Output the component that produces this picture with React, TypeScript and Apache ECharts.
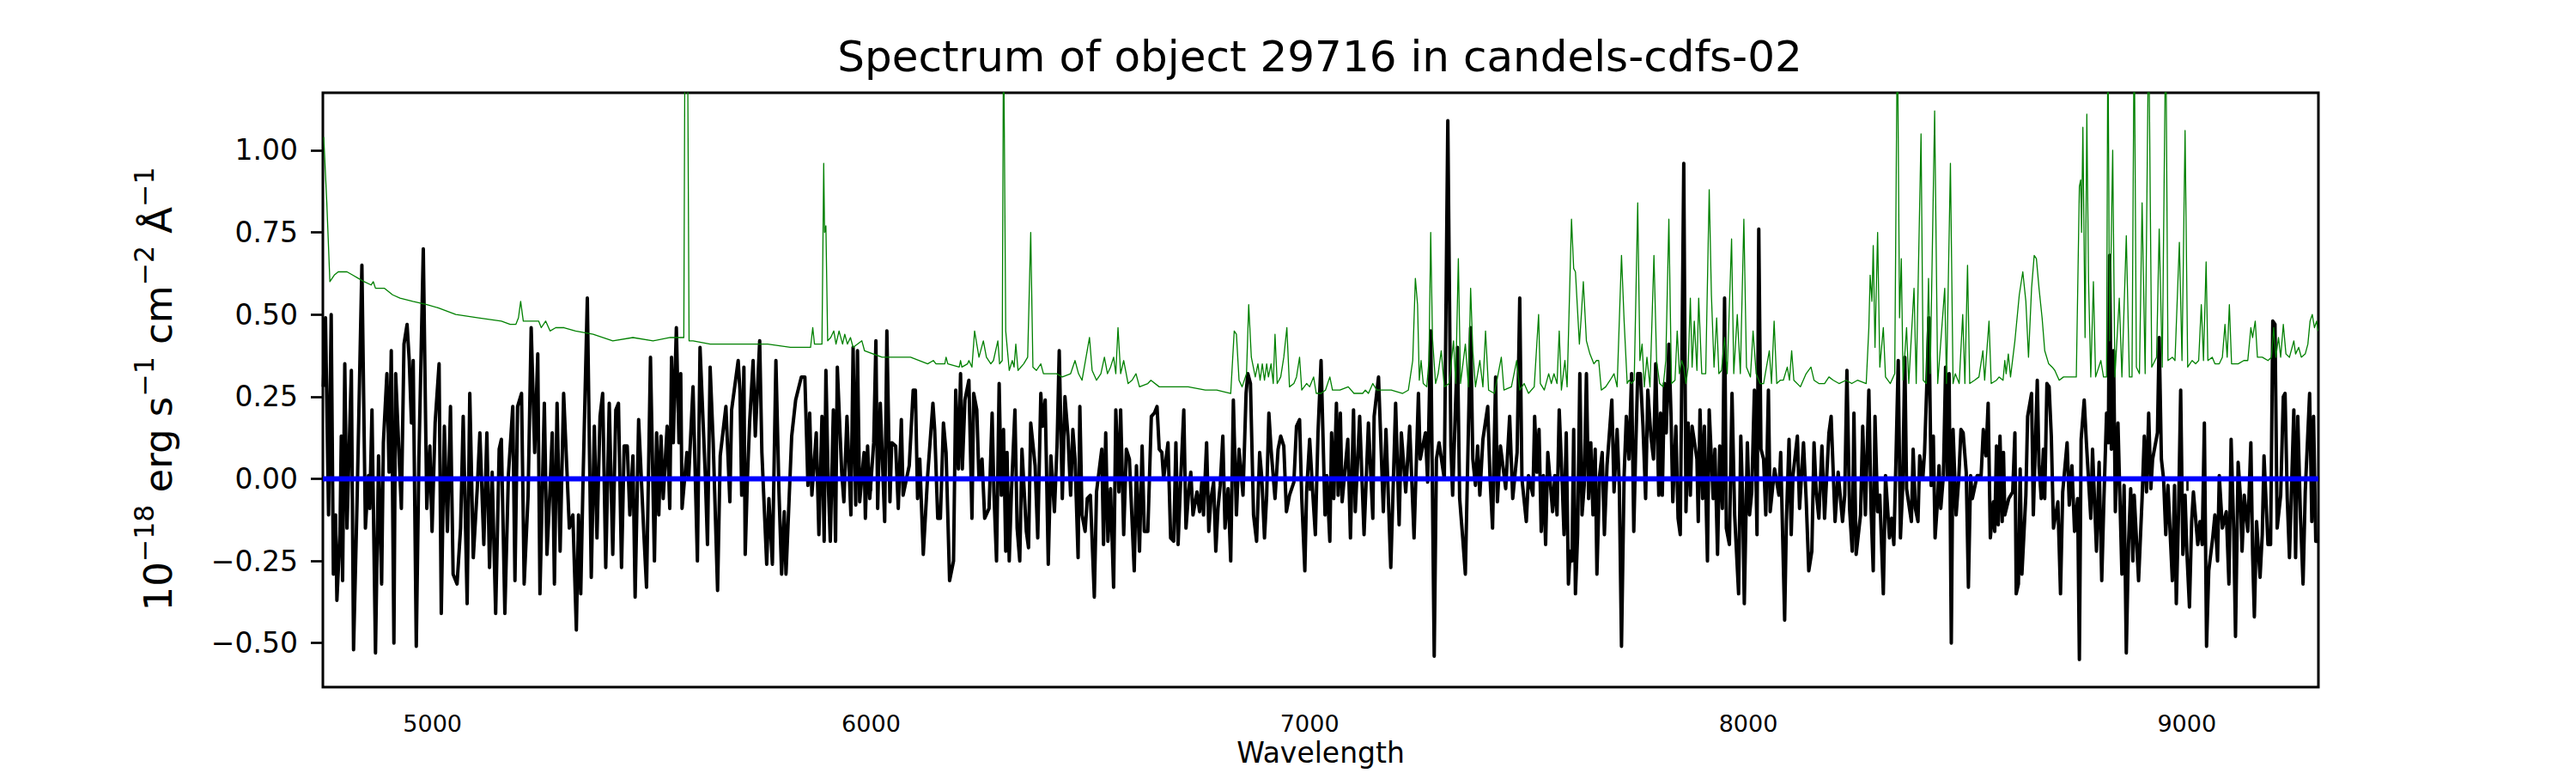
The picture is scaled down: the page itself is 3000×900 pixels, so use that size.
import { useEffect, useRef } from "react";
import * as echarts from "echarts";

const TITLE = "Spectrum of object 29716 in candels-cdfs-02";
const X_NAME = "Wavelength";
const X_MIN = 4750;
const X_MAX = 9300;
const Y_MIN = -0.634;
const Y_MAX = 1.175;
const xTicks = [5000, 6000, 7000, 8000, 9000];
const yTicks = [-0.5, -0.25, 0, 0.25, 0.5, 0.75, 1.0];

// observed spectrum (black), wavelength in Angstrom, flux in 1e-18 erg/s/cm2/A
const spec4750: [number, number][] = [
  [4751, 0.28], [4756, 0.49], [4763, -0.11], [4769, 0.5], [4774, -0.29], [4779, -0.11], [4782, -0.37], [4789, -0.17],
  [4792, 0.13], [4795, -0.31], [4800, 0.35], [4805, -0.15], [4815, 0.33], [4820, -0.52], [4828, -0.07], [4839, 0.65],
  [4847, -0.15], [4854, 0.01], [4857, -0.09], [4862, 0.21], [4870, -0.53], [4877, 0.07], [4884, -0.32], [4888, 0.11],
  [4896, 0.32], [4901, 0.02], [4906, 0.39], [4912, -0.5], [4916, 0.32], [4921, 0.16], [4929, -0.09], [4935, 0.41],
  [4942, 0.47], [4947, 0.36], [4952, 0.17], [4956, 0.36], [4963, -0.51], [4969, 0.06], [4979, 0.7], [4987, -0.09],
  [4994, 0.1], [4999, -0.16], [5006, 0.17], [5015, 0.35], [5020, -0.41], [5027, 0.16], [5034, -0.16], [5041, 0.22],
  [5047, -0.29], [5056, -0.32], [5064, -0.15], [5070, 0.19], [5079, -0.38], [5085, 0.26], [5093, -0.24], [5102, -0.03],
  [5108, 0.14], [5117, -0.2], [5124, 0.14], [5130, -0.27], [5136, 0.02], [5144, -0.41], [5152, 0.09], [5157, 0.12],
  [5165, -0.41], [5173, 0.01], [5183, 0.22], [5188, -0.31], [5194, 0.22], [5203, 0.26], [5209, -0.32], [5218, -0.05],
  [5225, 0.46], [5233, 0.08], [5240, 0.38], [5245, -0.35], [5255, 0.23], [5261, -0.23], [5268, -0.03], [5273, 0.14],
  [5278, -0.32], [5284, 0.23], [5291, -0.22], [5299, 0.26], [5307, 0.01], [5312, -0.15], [5320, -0.11], [5328, -0.46],
  [5333, -0.11], [5338, -0.35], [5343, -0.02], [5353, 0.55], [5362, -0.3], [5369, 0.16], [5375, -0.18], [5382, 0.19],
  [5388, 0.26], [5395, -0.27], [5403, 0.23], [5411, -0.23], [5418, 0.21], [5424, 0.23], [5431, -0.27], [5437, 0.1],
  [5444, 0.1], [5450, -0.11], [5457, 0.07], [5462, -0.36], [5470, 0.18], [5482, -0.17], [5488, -0.33], [5497, 0.37],
];
const spec5500: [number, number][] = [
  [5506, -0.25], [5511, 0.14], [5516, -0.11], [5521, 0.13], [5526, -0.06], [5535, 0.16], [5541, -0.09], [5545, 0.37],
  [5549, 0.11], [5556, 0.46], [5562, 0.11], [5566, 0.32], [5569, -0.09], [5580, 0.08], [5584, 0.0], [5594, 0.28],
  [5604, -0.25], [5610, 0.4], [5622, 0.01], [5627, -0.2], [5633, 0.34], [5640, 0.11], [5650, -0.34], [5656, 0.07],
  [5669, 0.22], [5678, -0.07], [5682, 0.21], [5697, 0.36], [5701, 0.27], [5705, -0.05], [5710, 0.34], [5713, -0.23],
  [5718, 0.0], [5723, 0.17], [5731, 0.36], [5736, 0.13], [5746, 0.42], [5751, 0.08], [5762, -0.26], [5767, -0.06],
  [5775, -0.26], [5783, 0.36], [5790, -0.04], [5796, -0.29], [5802, -0.1], [5806, -0.29], [5811, -0.13], [5819, 0.13],
  [5828, 0.24], [5841, 0.31], [5849, 0.31], [5856, -0.02], [5860, 0.2], [5865, -0.05], [5875, 0.14], [5881, -0.17],
  [5888, 0.19], [5893, -0.19], [5897, 0.33], [5902, 0.0], [5907, -0.19], [5914, 0.21], [5919, -0.19], [5923, 0.34],
  [5933, 0.02], [5938, -0.07], [5945, 0.19], [5954, -0.11], [5959, 0.4], [5965, -0.08], [5969, 0.39], [5974, -0.07],
  [5984, 0.08], [5987, -0.12], [5992, 0.1], [5997, -0.06], [6006, 0.11], [6011, 0.42], [6015, -0.09], [6021, 0.23],
  [6031, -0.13], [6036, 0.45], [6043, -0.07], [6047, 0.11], [6056, 0.1], [6062, -0.09], [6069, 0.18], [6073, -0.05],
  [6087, 0.04], [6096, 0.27], [6101, 0.27], [6106, -0.06], [6111, 0.06], [6119, -0.23], [6129, 0.01], [6141, 0.23],
  [6145, 0.15], [6152, -0.12], [6158, -0.12], [6165, 0.17], [6171, 0.08], [6179, -0.31], [6188, -0.25], [6193, 0.27],
  [6199, 0.03], [6204, 0.32], [6208, 0.03], [6214, 0.24], [6223, 0.3], [6230, -0.12], [6234, 0.26], [6241, 0.21],
  [6246, 0.0], [6253, 0.06], [6259, -0.12],
];
const spec6270: [number, number][] = [
  [6269, -0.09], [6276, 0.2], [6280, -0.04], [6286, -0.25], [6292, 0.29], [6297, -0.05], [6302, 0.15], [6307, -0.22],
  [6310, 0.08], [6315, -0.25], [6320, -0.04], [6328, 0.21], [6333, -0.15], [6339, -0.25], [6344, 0.09], [6354, -0.16],
  [6359, -0.21], [6364, 0.17], [6374, 0.04], [6380, -0.18], [6387, 0.26], [6391, 0.16], [6397, 0.24], [6404, -0.26],
  [6410, 0.07], [6418, -0.1], [6424, 0.1], [6429, 0.39], [6436, -0.06], [6442, 0.25], [6449, 0.13], [6455, -0.05],
  [6460, 0.15], [6465, 0.06], [6472, -0.24], [6476, 0.22], [6481, -0.11], [6488, -0.16], [6493, -0.06], [6500, -0.05],
  [6509, -0.36], [6514, -0.04], [6526, 0.09], [6530, -0.2], [6535, 0.14], [6540, -0.19], [6546, -0.03], [6553, -0.33],
  [6558, 0.21], [6565, -0.04], [6569, 0.21], [6576, -0.17], [6582, 0.09], [6589, 0.06], [6600, -0.28], [6605, 0.04],
  [6612, -0.22], [6618, 0.1], [6623, -0.16], [6631, -0.16], [6639, 0.19], [6646, 0.2], [6652, 0.22], [6657, 0.09],
  [6663, 0.08], [6667, 0.0], [6677, 0.11], [6683, -0.18], [6690, -0.19], [6695, 0.11], [6700, -0.2], [6706, 0.0],
  [6713, 0.21], [6718, -0.15], [6724, -0.04], [6729, 0.02], [6734, -0.11], [6743, -0.04], [6749, -0.1], [6754, -0.01],
  [6758, -0.11], [6765, 0.11], [6770, -0.16], [6775, -0.06], [6781, -0.01], [6786, -0.22], [6791, -0.09], [6796, -0.02],
  [6802, 0.13], [6807, -0.15], [6814, -0.03], [6820, -0.25], [6826, 0.24], [6833, -0.11], [6839, 0.09], [6848, -0.05],
  [6855, 0.26], [6859, 0.32], [6865, 0.29], [6872, -0.11], [6879, -0.19], [6886, 0.08], [6891, 0.0], [6897, -0.18],
  [6902, -0.05], [6907, 0.2], [6912, 0.09], [6921, -0.06], [6928, 0.09], [6934, 0.13], [6941, 0.1], [6947, -0.1],
  [6954, -0.05], [6964, -0.01], [6970, 0.16], [6977, 0.18], [6982, -0.06], [6989, -0.28], [6993, -0.04], [7000, 0.12],
  [7006, -0.02], [7013, -0.17], [7019, 0.14], [7026, 0.36],
];
const spec7030: [number, number][] = [
  [7035, -0.11], [7039, 0.01], [7046, -0.19], [7050, 0.14], [7055, -0.06], [7061, 0.23], [7065, -0.05], [7070, 0.2],
  [7074, -0.07], [7080, 0.02], [7087, 0.12], [7093, -0.18], [7100, 0.21], [7104, -0.1], [7114, 0.19], [7124, -0.17],
  [7134, 0.17], [7144, -0.12], [7147, 0.19], [7157, 0.31], [7168, -0.1], [7174, 0.15], [7185, -0.27], [7196, 0.23],
  [7204, -0.14], [7209, 0.14], [7219, -0.04], [7228, 0.16], [7238, -0.18], [7248, 0.26], [7252, 0.06], [7264, 0.14],
  [7269, -0.01], [7276, 0.45], [7284, -0.54], [7289, 0.06], [7295, 0.11], [7307, 0.0], [7315, 1.09], [7322, 0.1],
  [7326, -0.05], [7333, 0.24], [7337, 0.4], [7342, -0.06], [7349, -0.18], [7355, -0.29], [7361, 0.09], [7367, 0.46],
  [7372, 0.06], [7378, -0.02], [7383, 0.1], [7388, -0.05], [7395, 0.12], [7406, 0.22], [7411, 0.01], [7417, -0.15],
  [7424, 0.31], [7428, -0.07], [7435, 0.1], [7447, -0.03], [7456, 0.19], [7463, -0.06], [7473, 0.08], [7479, 0.55],
  [7484, 0.0], [7494, -0.13], [7499, 0.01], [7509, -0.05], [7513, 0.19], [7518, 0.02], [7523, 0.15], [7528, -0.16],
  [7533, 0.01], [7538, -0.2], [7543, 0.08], [7554, -0.1], [7559, 0.01], [7564, -0.11], [7569, 0.21], [7576, -0.02],
  [7580, -0.17], [7585, 0.14], [7590, -0.32], [7594, -0.22], [7598, -0.25], [7602, 0.15], [7606, -0.35], [7611, -0.17],
  [7616, 0.32], [7621, -0.11], [7626, -0.02], [7631, 0.32], [7636, -0.06], [7641, 0.11], [7646, -0.11], [7651, 0.09],
  [7655, -0.29], [7661, 0.01], [7667, 0.08], [7672, -0.17], [7678, 0.04], [7689, 0.24], [7694, -0.04], [7701, 0.15],
  [7706, -0.02], [7711, -0.51], [7717, 0.01], [7722, 0.19], [7728, 0.06], [7734, 0.32], [7739, -0.16], [7743, 0.07],
  [7748, 0.32], [7754, 0.32], [7760, 0.16], [7766, -0.06], [7771, 0.27], [7778, 0.13], [7784, 0.06], [7789, 0.35],
];
const spec7790: [number, number][] = [
  [7796, -0.05], [7800, 0.2], [7804, -0.05], [7809, 0.29], [7813, 0.14], [7819, 0.41], [7824, 0.19], [7828, -0.07],
  [7835, 0.16], [7840, -0.12], [7845, -0.17], [7853, 0.96], [7858, -0.1], [7863, 0.17], [7868, -0.05], [7872, 0.16],
  [7883, 0.06], [7886, -0.13], [7890, 0.21], [7896, -0.06], [7900, 0.16], [7907, -0.25], [7911, 0.21], [7920, -0.06],
  [7924, 0.09], [7930, -0.23], [7935, 0.1], [7941, -0.09], [7946, 0.55], [7950, -0.15], [7957, -0.2], [7963, 0.26],
  [7969, -0.11], [7978, -0.35], [7983, 0.13], [7987, -0.05], [7991, -0.38], [7998, 0.11], [8003, -0.11], [8008, -0.04],
  [8014, 0.27], [8020, -0.17], [8024, 0.76], [8029, 0.09], [8035, 0.06], [8040, -0.11], [8046, 0.27], [8050, -0.1],
  [8060, 0.03], [8070, -0.05], [8074, 0.08], [8083, -0.43], [8087, -0.13], [8093, 0.12], [8098, -0.17], [8102, 0.01],
  [8112, 0.13], [8117, -0.09], [8126, 0.11], [8132, -0.06], [8138, -0.28], [8145, -0.22], [8150, 0.11], [8155, -0.04],
  [8161, -0.12], [8168, 0.1], [8174, -0.12], [8184, 0.14], [8189, 0.19], [8198, -0.13], [8205, 0.02], [8215, -0.13],
  [8220, -0.05], [8225, 0.33], [8231, -0.09], [8237, -0.22], [8241, 0.2], [8246, -0.23], [8256, -0.11], [8261, 0.16],
  [8267, -0.11], [8275, 0.27], [8280, -0.09], [8285, -0.28], [8289, 0.19], [8295, -0.1], [8300, -0.05], [8308, -0.35],
  [8313, 0.01], [8322, -0.18], [8327, -0.12], [8332, -0.2], [8337, 0.07], [8342, 0.36], [8347, -0.18], [8352, -0.03],
  [8357, 0.37], [8361, -0.03], [8372, -0.13], [8376, 0.09], [8381, -0.09], [8387, -0.13], [8391, 0.07], [8398, 0.0],
  [8402, 0.08], [8407, 0.28], [8412, 0.49], [8417, -0.02], [8422, 0.13], [8426, -0.18], [8432, -0.06], [8435, 0.04],
  [8439, -0.09], [8445, 0.01], [8450, 0.34], [8454, 0.01], [8458, 0.32], [8463, -0.5], [8467, 0.15], [8474, -0.11],
  [8480, 0.0], [8485, 0.15], [8490, 0.14], [8497, 0.02], [8502, -0.33], [8507, 0.01], [8511, -0.06], [8522, 0.01],
  [8531, 0.01], [8536, 0.15], [8542, 0.07], [8547, 0.23], [8552, -0.18],
];
const spec8560: [number, number][] = [
  [8559, -0.07], [8562, -0.16], [8566, 0.1], [8570, -0.14], [8574, 0.13], [8579, -0.13], [8582, 0.08], [8585, -0.11],
  [8594, -0.06], [8603, -0.04], [8608, 0.14], [8611, -0.35], [8616, -0.32], [8620, 0.03], [8624, -0.29], [8633, -0.05],
  [8637, 0.19], [8646, 0.26], [8650, -0.11], [8659, 0.3], [8663, 0.04], [8668, -0.06], [8673, 0.09], [8676, -0.06],
  [8681, 0.29], [8686, 0.28], [8691, 0.13], [8696, -0.15], [8706, -0.07], [8712, -0.35], [8717, -0.04], [8727, 0.11],
  [8732, -0.08], [8738, 0.04], [8744, -0.16], [8751, -0.06], [8755, -0.55], [8759, 0.12], [8766, 0.24], [8771, 0.11],
  [8781, -0.12], [8785, 0.09], [8794, -0.22], [8800, 0.05], [8806, -0.31], [8811, -0.06], [8817, 0.2], [8821, 0.11],
  [8824, 0.68], [8828, 0.09], [8833, 0.39], [8837, -0.1], [8843, 0.17], [8852, -0.29], [8857, -0.02], [8862, -0.53],
  [8867, -0.2], [8872, -0.03], [8877, -0.25], [8880, -0.05], [8890, -0.31], [8898, -0.06], [8903, 0.13], [8908, -0.04],
  [8913, 0.2], [8918, -0.03], [8922, 0.06], [8933, 0.14], [8937, 0.43], [8942, 0.06], [8947, 0.0], [8952, -0.17],
  [8957, -0.02], [8967, -0.31], [8972, -0.02], [8976, -0.38], [8981, -0.11], [8986, 0.27], [8991, -0.23], [8996, -0.05],
  [9000, -0.22], [9006, -0.39], [9011, -0.13], [9015, -0.04], [9025, -0.2], [9030, -0.13], [9035, -0.2], [9040, 0.17],
  [9045, -0.51], [9050, -0.28], [9059, -0.18], [9064, -0.11], [9070, -0.25], [9074, 0.01], [9081, -0.15], [9090, -0.1],
  [9096, -0.32], [9101, 0.12], [9107, -0.16], [9111, -0.48], [9117, 0.05], [9122, -0.05], [9126, -0.22], [9131, -0.05],
  [9139, -0.16], [9146, 0.11], [9150, -0.23], [9154, -0.42], [9159, -0.13], [9167, -0.3], [9172, -0.17], [9176, 0.07],
  [9185, -0.2], [9191, -0.2], [9196, 0.48], [9201, 0.47], [9206, -0.15], [9214, -0.05], [9220, 0.25], [9224, 0.26],
  [9229, -0.06], [9234, -0.24], [9244, 0.21], [9248, -0.24], [9253, 0.19], [9259, -0.11], [9265, -0.32], [9270, -0.04],
  [9280, 0.26], [9285, -0.13], [9289, 0.19], [9294, -0.19], [9298, -0.19],
];

// noise spectrum (green)
const err4750: [number, number][] = [
  [4752, 1.04], [4759, 0.84], [4766, 0.6], [4776, 0.62], [4785, 0.63], [4805, 0.63], [4818, 0.62], [4831, 0.61],
  [4844, 0.6], [4860, 0.59], [4865, 0.6], [4870, 0.58], [4890, 0.58], [4909, 0.56], [4926, 0.55], [4955, 0.54],
  [4987, 0.53], [5014, 0.52], [5053, 0.5], [5105, 0.49], [5157, 0.48], [5177, 0.47], [5190, 0.47], [5196, 0.49],
  [5201, 0.54], [5207, 0.48], [5222, 0.48], [5242, 0.48], [5248, 0.46], [5258, 0.48], [5268, 0.45], [5281, 0.46],
  [5300, 0.46], [5326, 0.45], [5366, 0.44], [5411, 0.42], [5457, 0.43], [5503, 0.42],
];
const err5500: [number, number][] = [
  [5542, 0.43], [5568, 0.43], [5573, 0.43], [5576, 1.5], [5581, 1.5], [5585, 0.42], [5594, 0.42], [5633, 0.41],
  [5699, 0.41], [5764, 0.41], [5816, 0.4], [5862, 0.4], [5867, 0.46], [5871, 0.41], [5888, 0.41], [5892, 0.96],
  [5894, 0.75], [5897, 0.77], [5901, 0.42], [5908, 0.43], [5915, 0.45], [5920, 0.41], [5927, 0.45], [5935, 0.41],
  [5940, 0.44], [5946, 0.41], [5953, 0.43], [5959, 0.4], [5979, 0.42], [5985, 0.39], [6025, 0.37], [6090, 0.37],
  [6129, 0.35], [6142, 0.36], [6148, 0.35], [6168, 0.35], [6171, 0.37], [6175, 0.35], [6201, 0.34], [6204, 0.36],
  [6207, 0.34], [6220, 0.35], [6223, 0.36], [6230, 0.34], [6236, 0.45], [6246, 0.37], [6256, 0.42], [6263, 0.37],
];
const err6270: [number, number][] = [
  [6273, 0.35], [6279, 0.36], [6289, 0.42], [6293, 0.35], [6299, 0.36], [6302, 1.4], [6307, 0.45], [6315, 0.33],
  [6322, 0.36], [6326, 0.34], [6330, 0.41], [6335, 0.33], [6348, 0.35], [6357, 0.37], [6364, 0.75], [6369, 0.34],
  [6377, 0.33], [6387, 0.35], [6393, 0.32], [6423, 0.32], [6436, 0.31], [6455, 0.32], [6465, 0.36], [6473, 0.32],
  [6481, 0.3], [6498, 0.43], [6504, 0.33], [6514, 0.3], [6524, 0.32], [6532, 0.37], [6539, 0.32], [6546, 0.34],
  [6553, 0.37], [6558, 0.32], [6563, 0.46], [6569, 0.32], [6576, 0.36], [6586, 0.29], [6595, 0.3], [6604, 0.32],
  [6612, 0.28], [6631, 0.29], [6638, 0.3], [6657, 0.28], [6683, 0.28], [6700, 0.28], [6723, 0.28], [6762, 0.27],
  [6788, 0.27], [6820, 0.26], [6828, 0.45], [6833, 0.44], [6839, 0.3], [6846, 0.28], [6856, 0.32], [6861, 0.53],
  [6867, 0.37], [6876, 0.31], [6882, 0.35], [6887, 0.3], [6892, 0.35], [6897, 0.3], [6902, 0.35], [6906, 0.31],
  [6912, 0.35], [6917, 0.29], [6921, 0.44], [6926, 0.29], [6934, 0.31], [6941, 0.37], [6948, 0.46], [6954, 0.28],
  [6964, 0.29], [6970, 0.31], [6977, 0.37], [6982, 0.27], [6993, 0.29], [7000, 0.28], [7009, 0.31], [7015, 0.26],
  [7026, 0.26],
];
const err7030: [number, number][] = [
  [7036, 0.27], [7046, 0.31], [7052, 0.27], [7069, 0.27], [7088, 0.28], [7101, 0.26], [7121, 0.26], [7127, 0.27],
  [7134, 0.26], [7144, 0.29], [7153, 0.27], [7186, 0.27], [7212, 0.26], [7225, 0.27], [7235, 0.36], [7241, 0.61],
  [7246, 0.53], [7250, 0.3], [7254, 0.36], [7259, 0.29], [7267, 0.28], [7272, 0.36], [7276, 0.75], [7280, 0.43],
  [7287, 0.29], [7293, 0.32], [7300, 0.39], [7307, 0.28], [7318, 0.29], [7328, 0.42], [7333, 0.29], [7339, 0.67],
  [7344, 0.29], [7355, 0.41], [7362, 0.28], [7367, 0.58], [7372, 0.39], [7378, 0.28], [7388, 0.36], [7395, 0.28],
  [7401, 0.45], [7408, 0.27], [7421, 0.26], [7427, 0.3], [7437, 0.37], [7443, 0.27], [7460, 0.28], [7472, 0.36],
  [7479, 0.27], [7489, 0.29], [7499, 0.26], [7512, 0.28], [7522, 0.5], [7526, 0.29], [7535, 0.27], [7545, 0.32],
  [7551, 0.29], [7557, 0.32], [7564, 0.29], [7569, 0.45], [7574, 0.27], [7582, 0.36], [7587, 0.28], [7597, 0.79],
  [7602, 0.64], [7606, 0.63], [7615, 0.41], [7619, 0.49], [7624, 0.6], [7631, 0.42], [7639, 0.38], [7648, 0.35],
  [7654, 0.36], [7659, 0.36], [7665, 0.27], [7675, 0.28], [7685, 0.3], [7694, 0.32], [7701, 0.28], [7711, 0.68],
  [7717, 0.48], [7724, 0.29], [7728, 0.3], [7734, 0.29], [7740, 0.3], [7748, 0.84], [7753, 0.36], [7758, 0.41],
  [7763, 0.28], [7769, 0.37], [7776, 0.28], [7785, 0.68], [7791, 0.36],
];
const err7790: [number, number][] = [
  [7798, 0.29], [7806, 0.28], [7812, 0.36], [7819, 0.79], [7825, 0.29], [7833, 0.3], [7838, 0.45], [7843, 0.32],
  [7848, 0.36], [7853, 0.34], [7858, 0.29], [7863, 0.34], [7868, 0.55], [7872, 0.34], [7877, 0.48], [7883, 0.33],
  [7887, 0.55], [7894, 0.32], [7903, 0.32], [7911, 0.88], [7916, 0.56], [7922, 0.34], [7928, 0.49], [7933, 0.32],
  [7939, 0.33], [7946, 0.43], [7952, 0.32], [7962, 0.73], [7967, 0.32], [7975, 0.5], [7982, 0.32], [7990, 0.79],
  [7996, 0.34], [8005, 0.31], [8011, 0.45], [8018, 0.32], [8027, 0.29], [8035, 0.29], [8048, 0.39], [8053, 0.29],
  [8059, 0.48], [8065, 0.29], [8073, 0.3], [8080, 0.3], [8089, 0.34], [8094, 0.3], [8099, 0.39], [8104, 0.3],
  [8119, 0.28], [8132, 0.32], [8143, 0.34], [8150, 0.3], [8161, 0.29], [8174, 0.29], [8184, 0.31], [8194, 0.3],
  [8207, 0.29], [8223, 0.3], [8236, 0.29], [8249, 0.3], [8269, 0.29], [8275, 0.46], [8278, 0.62], [8282, 0.54],
  [8285, 0.71], [8289, 0.4], [8295, 0.75], [8300, 0.34], [8308, 0.46], [8313, 0.31], [8324, 0.29], [8334, 0.32],
  [8340, 1.4], [8345, 0.49], [8349, 0.67], [8353, 0.3], [8361, 0.46], [8366, 0.29], [8378, 0.58], [8383, 0.29],
  [8394, 1.05], [8399, 0.3], [8406, 0.29], [8411, 0.61], [8415, 0.32], [8425, 1.12], [8432, 0.29], [8448, 0.58],
  [8452, 0.29], [8461, 0.96], [8467, 0.29], [8472, 0.32], [8481, 0.29], [8489, 0.5], [8494, 0.29], [8500, 0.65],
  [8505, 0.29], [8516, 0.3], [8526, 0.31], [8535, 0.39], [8539, 0.3], [8549, 0.48], [8554, 0.29],
];
const err8560: [number, number][] = [
  [8566, 0.3], [8572, 0.31], [8581, 0.3], [8585, 0.36], [8588, 0.32], [8593, 0.38], [8598, 0.31], [8608, 0.42],
  [8618, 0.56], [8626, 0.63], [8633, 0.54], [8639, 0.37], [8646, 0.58], [8652, 0.68], [8657, 0.67], [8663, 0.58],
  [8670, 0.49], [8676, 0.39], [8685, 0.35], [8693, 0.34], [8699, 0.33], [8709, 0.3], [8719, 0.31], [8729, 0.31],
  [8738, 0.31], [8748, 0.31], [8755, 0.89], [8758, 0.91], [8760, 0.75], [8763, 1.07], [8768, 0.43], [8772, 1.11],
  [8776, 0.6], [8781, 0.31], [8787, 0.6], [8792, 0.31], [8804, 0.36], [8810, 0.31], [8817, 0.31], [8820, 1.4],
  [8824, 0.42], [8831, 1.0], [8836, 0.31], [8846, 0.55], [8852, 0.31], [8862, 0.74], [8869, 0.31], [8875, 0.31],
  [8880, 1.4], [8885, 0.34], [8892, 0.32], [8898, 0.84], [8905, 0.32], [8913, 1.4], [8920, 0.34], [8931, 0.37],
  [8937, 0.76], [8944, 0.34], [8952, 1.4], [8957, 0.36], [8967, 0.37], [8973, 0.36], [8983, 0.72], [8989, 0.36],
  [8996, 1.06], [9002, 0.34], [9012, 0.36], [9020, 0.35], [9027, 0.36], [9033, 0.53], [9038, 0.36], [9044, 0.66],
  [9048, 0.36], [9058, 0.37], [9064, 0.35], [9074, 0.35], [9081, 0.37], [9087, 0.47], [9092, 0.37], [9097, 0.53],
  [9102, 0.35], [9117, 0.35], [9130, 0.36], [9139, 0.36], [9146, 0.46], [9150, 0.43], [9156, 0.48], [9161, 0.37],
  [9172, 0.37], [9185, 0.36], [9193, 0.37], [9198, 0.46], [9203, 0.37], [9209, 0.43], [9214, 0.37], [9220, 0.47],
  [9226, 0.38], [9234, 0.37], [9244, 0.42], [9248, 0.38], [9255, 0.4], [9261, 0.37], [9270, 0.38], [9276, 0.41],
  [9281, 0.48], [9286, 0.5], [9291, 0.46], [9296, 0.48], [9299, 0.45],
];

// model (blue), flat at zero
const modelWave = [4750, 9300];
const modelFlux = [0, 0];

const FONT = "DejaVu Sans";

export default function App() {
  const ref = useRef<HTMLDivElement>(null);

  useEffect(() => {
    document.body.style.margin = "0";
    const el = ref.current;
    if (!el) return;
    const chart = echarts.init(el, null, { renderer: "svg" });

    const spectrum = [...spec4750, ...spec5500, ...spec6270, ...spec7030, ...spec7790, ...spec8560];
    const noise = [...err4750, ...err5500, ...err6270, ...err7030, ...err7790, ...err8560];
    const model = modelWave.map((w, i) => [w, modelFlux[i]]);

    const fmtY = (v: number) => (v < 0 ? "\u2212" : "") + Math.abs(v).toFixed(2);

    chart.setOption({
      animation: false,
      backgroundColor: "#ffffff",
      grid: {
        left: 376,
        right: 300,
        top: 108,
        bottom: 100,
        show: true,
        borderColor: "#000000",
        borderWidth: 3,
        backgroundColor: "transparent",
      },
      xAxis: {
        type: "value",
        min: X_MIN,
        max: X_MAX,
        axisLine: { show: false },
        splitLine: { show: false },
        axisTick: {
          show: true,
          inside: false,
          length: 14,
          customValues: xTicks,
          lineStyle: { color: "#000000", width: 2.7 },
        },
        axisLabel: {
          show: true,
          customValues: xTicks,
          margin: 29,
          fontFamily: FONT,
          fontSize: 27,
          color: "#000000",
          formatter: (v: number) => String(v),
        },
      },
      yAxis: {
        type: "value",
        min: Y_MIN,
        max: Y_MAX,
        axisLine: { show: false },
        splitLine: { show: false },
        axisTick: {
          show: true,
          inside: false,
          length: 14,
          customValues: yTicks,
          lineStyle: { color: "#000000", width: 2.7 },
        },
        axisLabel: {
          show: true,
          customValues: yTicks,
          margin: 29,
          fontFamily: FONT,
          fontSize: 33,
          color: "#000000",
          formatter: fmtY,
        },
      },
      graphic: [
        {
          type: "text",
          x: 1537,
          y: 65.7,
          style: {
            text: TITLE,
            fontFamily: FONT,
            fontSize: 50,
            fill: "#000000",
            align: "center",
            verticalAlign: "middle",
            textAlign: "center",
            textVerticalAlign: "middle",
          },
        },
        {
          type: "text",
          x: 1538,
          y: 876.6,
          style: {
            text: X_NAME,
            fontFamily: FONT,
            fontSize: 33,
            fill: "#000000",
            align: "center",
            verticalAlign: "middle",
            textAlign: "center",
            textVerticalAlign: "middle",
          },
        },
        {
          type: "text",
          x: 184,
          y: 453,
          rotation: Math.PI / 2,
          style: {
            text: "{m|10}{s|\u221218}{m| erg s}{s|\u22121}{m| cm}{s|\u22122}{m| \u00c5}{s|\u22121}",
            fontFamily: FONT,
            fontSize: 45,
            fill: "#000000",
            align: "center",
            verticalAlign: "middle",
            textAlign: "center",
            textVerticalAlign: "middle",
            rich: {
              m: { fontFamily: FONT, fontSize: 45, lineHeight: 64, fill: "#000000" },
              s: { fontFamily: FONT, fontSize: 31.5, lineHeight: 38, verticalAlign: "top", fill: "#000000" },
            },
          },
        },
      ],
      series: [
        {
          type: "line",
          name: "spectrum",
          data: spectrum,
          symbol: "none",
          showSymbol: false,
          clip: true,
          silent: true,
          z: 2,
          lineStyle: { color: "#000000", width: 4, join: "round" },
        },
        {
          type: "line",
          name: "model",
          data: model,
          symbol: "none",
          showSymbol: false,
          clip: true,
          silent: true,
          z: 3,
          lineStyle: { color: "#0000ff", width: 6 },
        },
        {
          type: "line",
          name: "noise",
          data: noise,
          symbol: "none",
          showSymbol: false,
          clip: true,
          silent: true,
          z: 4,
          lineStyle: { color: "#008000", width: 1.3, join: "round" },
        },
      ],
    });

    return () => chart.dispose();
  }, []);

  return <div ref={ref} style={{ width: 3000, height: 900 }} />;
}
